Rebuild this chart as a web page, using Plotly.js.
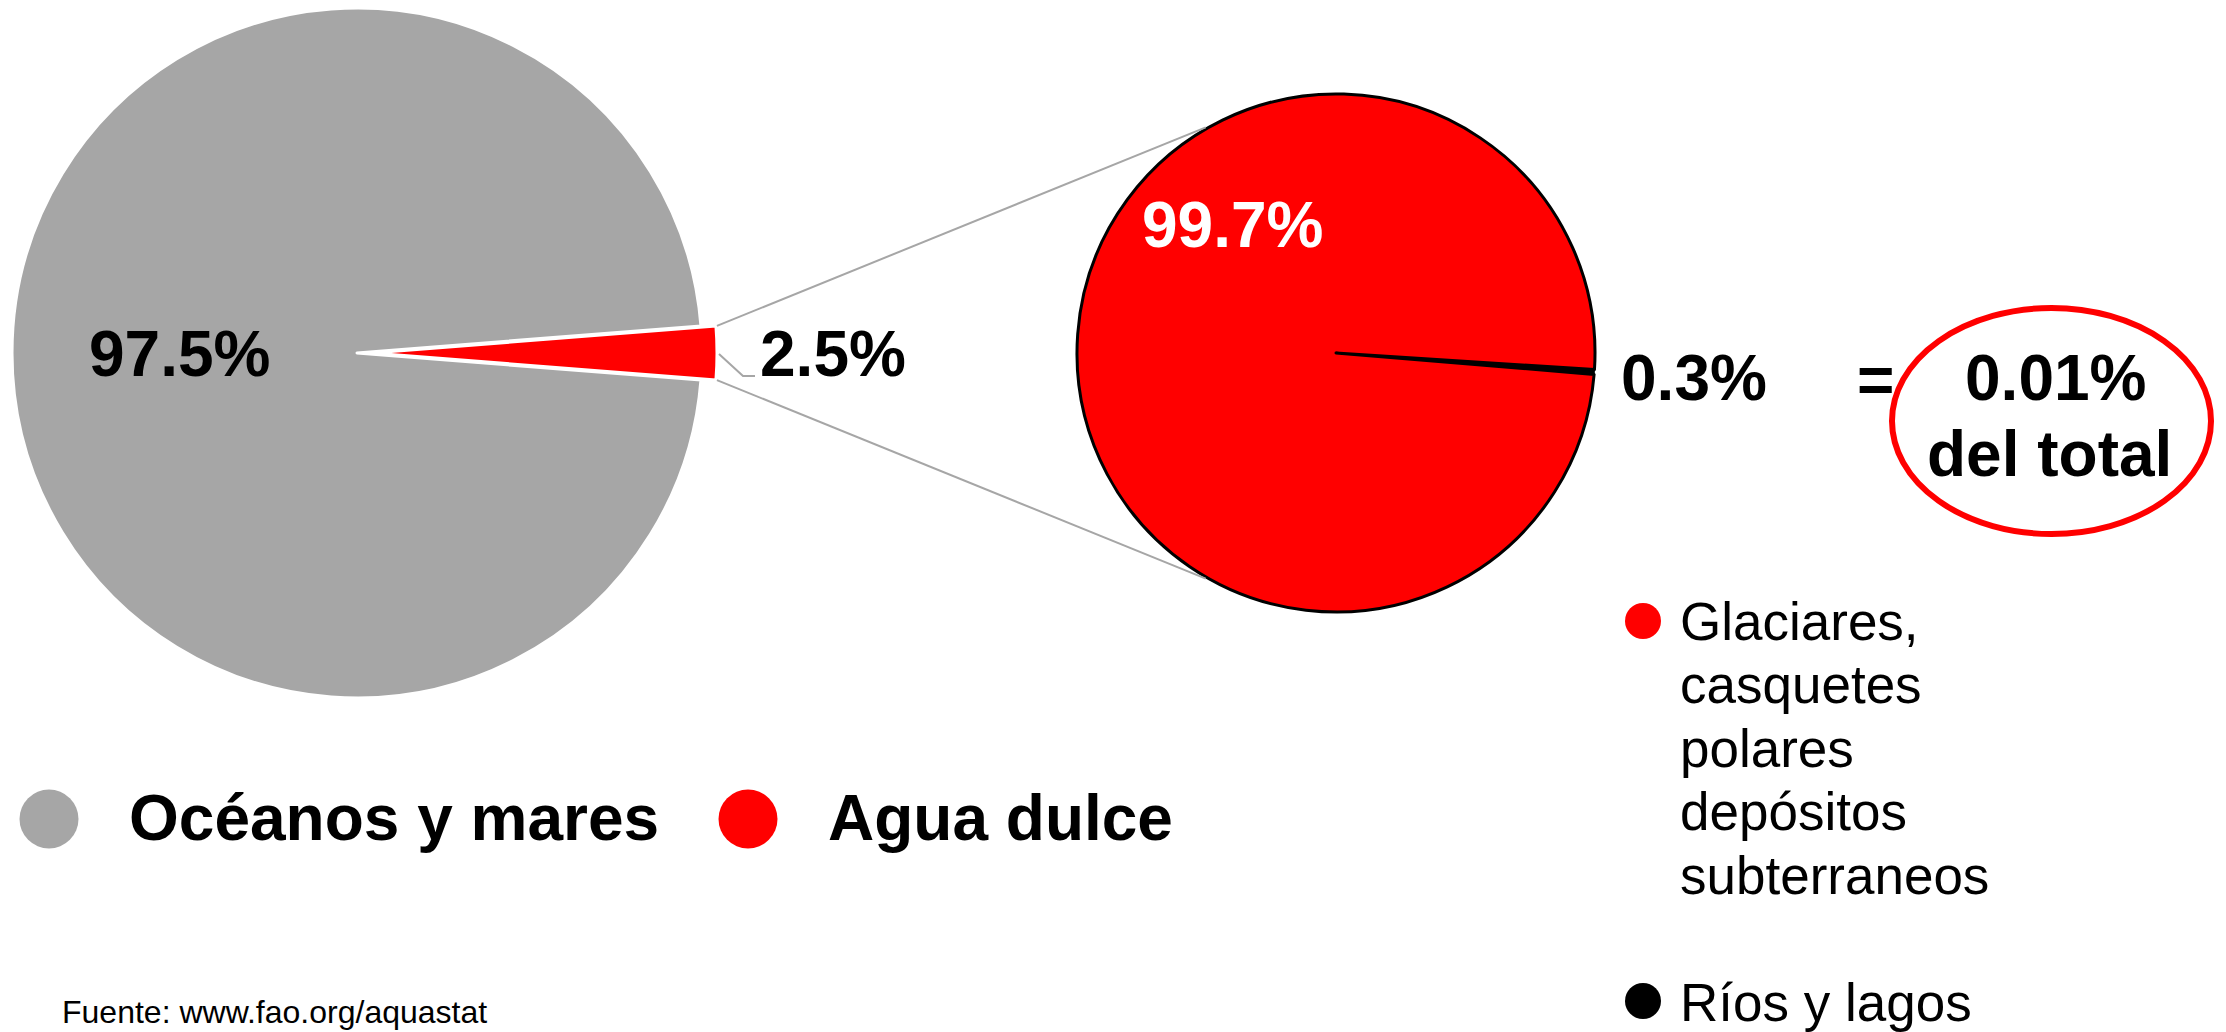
<!DOCTYPE html>
<html>
<head>
<meta charset="utf-8">
<script src="https://cdn.plot.ly/plotly-3.0.1.min.js"></script>
<style>html,body{margin:0;padding:0;background:#fff;overflow:hidden}</style>
</head>
<body>
<div id="chart" style="width:2226px;height:1032px"></div>
<script>
// ---- data ----
const mainLabels = ['Océanos y mares', 'Agua dulce'];
const mainValues = [97.5, 2.5];
const mainColors = ['#a6a6a6', '#ff0000'];

const freshLabels = ['Glaciares,<br>casquetes<br>polares<br>depósitos<br>subterraneos', 'Ríos y lagos'];
const freshValues = [99.7, 0.3];
const freshColors = ['#ff0000', '#000000'];

const totalShare = [0.01];
const totalLabel = ['del total'];
const sourceText = ['Fuente: www.fao.org/aquastat'];

// ---- geometry / style ----
const W = 2226, H = 1032;
const FONT = 'Liberation Sans, Arial, sans-serif';
const px = x => x / W, py = y => 1 - y / H;
function dom(cx, cy, r) { return {x: [(cx - r) / W, (cx + r) / W], y: [1 - (cy + r) / H, 1 - (cy - r) / H]}; }
const sum = a => a.reduce((s, v) => s + v, 0);

const L = {cx: 357, cy: 353, r: 345, pull: 15};
const R = {cx: 1336, cy: 353, r: 259};

const halfMain = mainValues[1] / sum(mainValues) * 180;   // half-angle of the fresh-water slice
const mainRot = 90 + halfMain;
const halfFresh = freshValues[1] / sum(freshValues) * 180;
const freshRot = 94.2 + halfFresh;

const TRANSP = 'rgba(0,0,0,0)';

const traces = [
  { // main pie: oceans slice (fresh slice left empty, drawn pulled out below)
    type: 'pie', values: mainValues, labels: mainLabels, sort: false, direction: 'clockwise',
    rotation: mainRot, domain: dom(L.cx, L.cy, L.r),
    marker: {colors: [mainColors[0], TRANSP], line: {color: '#ffffff', width: [3, 0]}},
    textinfo: 'none', hoverinfo: 'none', showlegend: false
  },
  { // pulled-out fresh-water slice
    type: 'pie', values: mainValues, labels: mainLabels, sort: false, direction: 'clockwise',
    rotation: mainRot, domain: dom(L.cx + L.pull, L.cy, L.r),
    marker: {colors: [TRANSP, mainColors[1]], line: {color: '#ffffff', width: [0, 3]}},
    textinfo: 'none', hoverinfo: 'none', showlegend: false
  },
  { // fresh-water breakdown pie
    type: 'pie', values: freshValues, labels: freshLabels, sort: false, direction: 'clockwise',
    rotation: freshRot, domain: dom(R.cx, R.cy, R.r),
    marker: {colors: freshColors, line: {color: '#000000', width: [3, 1]}},
    textinfo: 'none', hoverinfo: 'none', showlegend: false
  }
];

function ann(text, x, y, opts) {
  opts = opts || {};
  return {
    text: text, xref: 'paper', yref: 'paper', x: px(x), y: py(y),
    xanchor: opts.xanchor || 'center', yanchor: 'middle', showarrow: false,
    font: {family: FONT, size: opts.size || 64, color: opts.color || '#000000', weight: opts.weight || 700}
  };
}

const annotations = [
  ann(mainValues[0] + '%', 179, 354),
  ann(mainValues[1] + '%', 833, 354),
  ann(freshValues[0] + '%', 1232, 225, {color: '#ffffff'}),
  ann(freshValues[1] + '%', 1694, 378),
  ann('=', 1875, 380),
  ann(totalShare[0] + '%', 2055, 378),
  ann(totalLabel[0], 2049, 454),
  ann(mainLabels[0], 127, 818, {xanchor: 'left'}),
  ann(mainLabels[1], 826, 818, {xanchor: 'left'}),
  ann(sourceText[0], 60, 1012, {xanchor: 'left', size: 32, weight: 400})
];
freshLabels[0].split('<br>').forEach((line, i) => {
  annotations.push(ann(line, 1678, 621 + i * 63.6, {xanchor: 'left', size: 53, weight: 400}));
});
annotations.push(ann(freshLabels[1], 1678, 1002, {xanchor: 'left', size: 53, weight: 400}));

function circ(cx, cy, rx, ry, fill, lineColor, lineWidth) {
  return {type: 'circle', xref: 'paper', yref: 'paper',
    x0: px(cx - rx), x1: px(cx + rx), y0: py(cy + ry), y1: py(cy - ry),
    fillcolor: fill, line: {color: lineColor || fill, width: lineWidth || 0}};
}
function seg(pts, color, width) {
  const d = pts.map((p, i) => (i ? 'L' : 'M') + px(p[0]) + ',' + py(p[1])).join(' ');
  return {type: 'path', xref: 'paper', yref: 'paper', path: d, line: {color: color, width: width}};
}

const rad = Math.PI / 180;
const sliceR = L.r + 1;
const pTop = [L.cx + L.pull + sliceR * Math.cos(halfMain * rad), L.cy - sliceR * Math.sin(halfMain * rad)];
const pBot = [L.cx + L.pull + sliceR * Math.cos(halfMain * rad), L.cy + sliceR * Math.sin(halfMain * rad)];
const rOut = R.r + 1.5;
const qTop = [R.cx + rOut * Math.cos(120 * rad), R.cy - rOut * Math.sin(120 * rad)];
const qBot = [R.cx + rOut * Math.cos(120 * rad), R.cy + rOut * Math.sin(120 * rad)];

const shapes = [
  seg([pTop, qTop], '#a6a6a6', 2),
  seg([pBot, qBot], '#a6a6a6', 2),
  seg([[L.cx + L.pull + L.r + 2, L.cy + 1], [743, 376], [755, 376]], '#a6a6a6', 2),
  circ(2051.5, 421, 159.5, 113, 'rgba(0,0,0,0)', '#ff0000', 6),
  circ(49, 819, 29.5, 29.5, mainColors[0]),
  circ(748, 819, 29.5, 29.5, mainColors[1]),
  circ(1643, 621, 18, 18, freshColors[0]),
  circ(1643, 1001, 18, 18, freshColors[1])
];

const layout = {
  width: W, height: H, margin: {l: 0, r: 0, t: 0, b: 0},
  paper_bgcolor: '#ffffff', plot_bgcolor: '#ffffff',
  showlegend: false, annotations: annotations, shapes: shapes,
  font: {family: FONT}
};

Plotly.newPlot('chart', traces, layout, {displayModeBar: false, staticPlot: true});
</script>
</body>
</html>
